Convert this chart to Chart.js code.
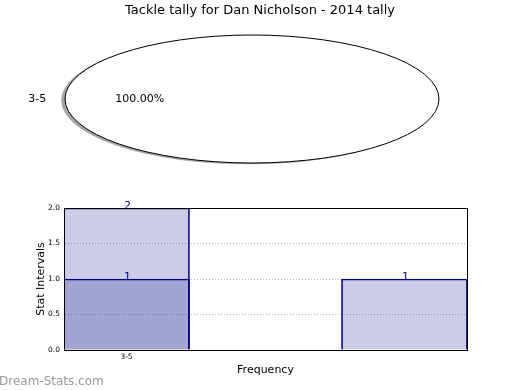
<!DOCTYPE html>
<html>
<head>
<meta charset="utf-8">
<script src="https://cdn.jsdelivr.net/npm/chart.js@4"></script>
<style>
  body {margin: 0; background: #fff;}
  #wrap {position: relative; width: 520px; height: 390px; overflow: hidden;}
  canvas {position: absolute; left: 0;}
  #pie {top: 0;}
  #bars {top: 180px;}
  #mark {position: absolute; left: -1px; top: 374px; font: 12px "DejaVu Sans", sans-serif; color: #9a9a9a;}
</style>
</head>
<body>
<div id="wrap">
  <canvas id="pie" width="520" height="180"></canvas>
  <canvas id="bars" width="520" height="210"></canvas>
  <div id="mark">Dream-Stats.com</div>
</div>
<script>
// pie data
var pieTitle = 'Tackle tally for Dan Nicholson - 2014 tally';
var pieLabels = ['3-5'];
var pieValues = [1];

// histogram data
var tickPositions = [0.5];
var tickLabels = ['3-5'];
var seriesA_x = [0.5];
var seriesA_y = [2];
var seriesB_x = [0.5, 2.724];
var seriesB_y = [1, 1];

var font = '"DejaVu Sans", sans-serif';
var stretch = 187 / 64;

function pts(xs, ys) {
  return xs.map(function (x, i) { return {x: x, y: ys[i]}; });
}

var ellipsePlugin = {
  id: 'ellipse',
  beforeDatasetsDraw: function (chart) {
    var arc = chart.getDatasetMeta(0).data[0];
    var ctx = chart.ctx;
    var rx = arc.outerRadius * stretch, ry = arc.outerRadius;
    ctx.save();
    ctx.fillStyle = 'rgba(77,77,77,0.5)';
    ctx.beginPath();
    ctx.ellipse(arc.x - 0.02 * rx, arc.y + 0.02 * ry, rx, ry, 0, 0, Math.PI * 2);
    ctx.fill();
    ctx.restore();
    ctx.save();
    ctx.translate(arc.x, arc.y);
    ctx.scale(stretch, 1);
    ctx.translate(-arc.x, -arc.y);
  },
  afterDatasetsDraw: function (chart) {
    var ctx = chart.ctx;
    ctx.restore();
    var arc = chart.getDatasetMeta(0).data[0];
    var rx = arc.outerRadius * stretch, ry = arc.outerRadius;
    ctx.save();
    ctx.strokeStyle = '#000';
    ctx.lineWidth = 1;
    ctx.beginPath();
    ctx.ellipse(arc.x, arc.y, rx, ry, 0, 0, Math.PI * 2);
    ctx.stroke();
    var total = pieValues.reduce(function (a, b) { return a + b; }, 0);
    ctx.fillStyle = '#000';
    ctx.font = '11px ' + font;
    ctx.textBaseline = 'middle';
    ctx.textAlign = 'right';
    ctx.fillText(pieLabels[0], arc.x - 1.1 * rx, arc.y);
    ctx.textAlign = 'center';
    ctx.fillText((pieValues[0] / total * 100).toFixed(2) + '%', arc.x - 0.6 * rx, arc.y);
    // figure title, centred on the whole figure
    ctx.font = '13px ' + font;
    ctx.fillText(pieTitle, chart.width / 2, 10.5);
    ctx.restore();
  }
};

new Chart(document.getElementById('pie').getContext('2d'), {
  type: 'pie',
  data: {
    labels: pieLabels,
    datasets: [{data: pieValues, backgroundColor: '#ffffff', borderWidth: 0, clip: false}]
  },
  options: {
    responsive: false,
    animation: false,
    layout: {padding: {left: 0, right: 16, top: 35, bottom: 17}},
    plugins: {
      legend: {display: false},
      tooltip: {enabled: false},
      title: {display: false}
    }
  },
  plugins: [ellipsePlugin]
});

var framePlugin = {
  id: 'frame',
  afterDraw: function (chart) {
    var a = chart.chartArea, ctx = chart.ctx;
    ctx.save();
    ctx.strokeStyle = '#000';
    ctx.lineWidth = 1;
    ctx.strokeRect(a.left + 0.5, a.top + 0.5, a.right - a.left, a.bottom - a.top);
    ctx.restore();
  },
  afterDatasetsDraw: function (chart) {
    var ctx = chart.ctx;
    ctx.save();
    ctx.fillStyle = '#000080';
    ctx.font = '11px ' + font;
    ctx.textAlign = 'center';
    ctx.textBaseline = 'alphabetic';
    chart.data.datasets.forEach(function (ds, i) {
      chart.getDatasetMeta(i).data.forEach(function (bar, j) {
        ctx.fillText(String(ds.data[j].y), bar.x + 1, bar.y + 1);
      });
    });
    ctx.restore();
  }
};

var barStyle = {
  backgroundColor: 'rgba(0,0,128,0.2)',
  borderColor: '#000080',
  borderWidth: 1,
  borderSkipped: 'start',
  barThickness: 126,
  grouped: false
};

new Chart(document.getElementById('bars').getContext('2d'), {
  type: 'bar',
  data: {
    datasets: [
      Object.assign({label: 'A', data: pts(seriesA_x, seriesA_y)}, barStyle),
      Object.assign({label: 'B', data: pts(seriesB_x, seriesB_y)}, barStyle)
    ]
  },
  options: {
    responsive: false,
    animation: false,
    layout: {padding: {left: 0, right: 53, top: 28, bottom: 0}},
    plugins: {legend: {display: false}, tooltip: {enabled: false}},
    scales: {
      x: {
        type: 'linear',
        min: 0,
        max: 3.224,
        offset: false,
        z: 1,
        afterBuildTicks: function (s) { s.ticks = tickPositions.map(function (v) { return {value: v}; }); },
        afterFit: function (s) { s.height = 40; },
        ticks: {
          autoSkip: false,
          maxRotation: 0,
          padding: 3,
          color: '#000',
          font: {family: font, size: 7.5},
          callback: function (v) { return tickLabels[tickPositions.indexOf(v)]; }
        },
        grid: {color: 'rgba(0,0,0,0.3)', drawTicks: false},
        border: {display: true, color: '#000', dash: [1, 2]},
        title: {display: true, text: 'Frequency', color: '#000', font: {family: font, size: 11}, padding: {top: 0, bottom: 13.4}}
      },
      y: {
        min: 0,
        max: 2,
        z: 1,
        afterFit: function (s) { s.width = 64; },
        ticks: {
          stepSize: 0.5,
          padding: 4,
          color: '#000',
          font: {family: font, size: 7.5},
          callback: function (v) { return v.toFixed(1); }
        },
        grid: {color: 'rgba(0,0,0,0.3)', drawTicks: false},
        border: {display: true, color: '#000', dash: [1, 2]},
        title: {display: true, text: 'Stat Intervals', color: '#000', font: {family: font, size: 11}, padding: {top: 34.4, bottom: 0}}
      }
    }
  },
  plugins: [framePlugin]
});
</script>
</body>
</html>
